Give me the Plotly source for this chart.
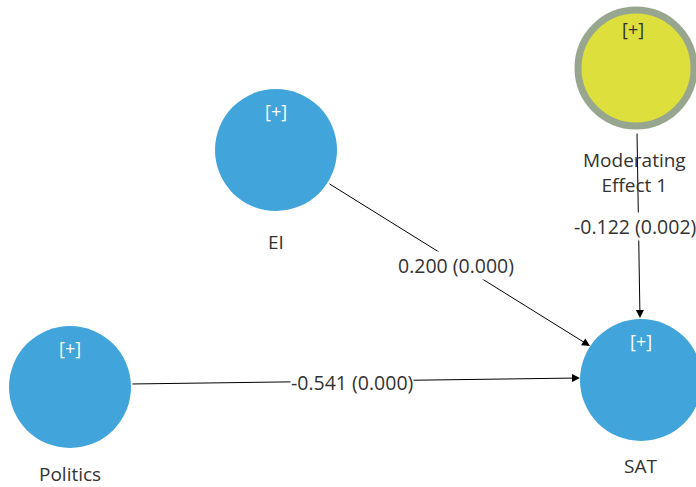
import plotly.graph_objects as go

# ---- data ----
nodes = ["EI", "Politics", "SAT", "Moderating<br>Effect 1"]
paths_from = ["EI", "Politics", "Moderating<br>Effect 1"]
paths_to = ["SAT", "SAT", "SAT"]
coefficients = [0.200, -0.541, -0.122]
p_values = [0.000, 0.000, 0.002]

# ---- layout (pixel space of the browser window) ----
W, H = 696, 487
pos = {
    "EI": (276, 150),
    "Politics": (70, 387),
    "SAT": (641, 380),
    "Moderating<br>Effect 1": (636, 68),
}
radius = {"EI": 61, "Politics": 61, "SAT": 61, "Moderating<br>Effect 1": 58}
fill = {"EI": "#41a5dc", "Politics": "#41a5dc", "SAT": "#41a5dc", "Moderating<br>Effect 1": "#dcdf3c"}
border = {"EI": None, "Politics": None, "SAT": None, "Moderating<br>Effect 1": "#99a68f"}
plus_color = {"EI": "#ffffff", "Politics": "#ffffff", "SAT": "#ffffff", "Moderating<br>Effect 1": "#333333"}
label_pos = {
    "EI": (276, 242),
    "Politics": (70, 474),
    "SAT": (640, 466),
    "Moderating<br>Effect 1": (634, 172),
}
# arrow start / end points and coefficient label positions
arrow_geom = [
    ((328, 183), (590, 346), (456, 265)),
    ((131, 384), (580, 378), (352, 382)),
    ((637, 132), (640, 318), (635, 226)),
]

FONT = "Open Sans"
fig = go.Figure()
fig.add_trace(go.Scatter(x=[0, W], y=[0, H], mode="markers", marker=dict(opacity=0),
                         hoverinfo="skip", showlegend=False))

shapes = []
annotations = []

for (s, e, lp), c, p in zip(arrow_geom, coefficients, p_values):
    annotations.append(dict(
        x=e[0], y=e[1], ax=s[0], ay=s[1], xref="x", yref="y", axref="x", ayref="y",
        showarrow=True, arrowhead=2, arrowsize=1.6, arrowwidth=1, arrowcolor="#000000",
        text="", standoff=0, startstandoff=0,
    ))

for n in nodes:
    cx, cy = pos[n]
    r = radius[n]
    line = dict(color=border[n], width=7) if border[n] else dict(width=0)
    shapes.append(dict(type="circle", xref="x", yref="y", x0=cx - r, x1=cx + r, y0=cy - r, y1=cy + r,
                       fillcolor=fill[n], line=line, layer="below"))
    annotations.append(dict(x=cx - 3 if border[n] else cx, y=cy - 39,
                            xref="x", yref="y", text="[+]", showarrow=False,
                            font=dict(family=FONT, size=18, color=plus_color[n])))
    lx, ly = label_pos[n]
    annotations.append(dict(x=lx, y=ly, xref="x", yref="y", text=n, showarrow=False,
                            font=dict(family=FONT, size=19, color="#333333")))

for (s, e, lp), c, p in zip(arrow_geom, coefficients, p_values):
    annotations.append(dict(x=lp[0], y=lp[1], xref="x", yref="y", text=f"{c:.3f} ({p:.3f})",
                            showarrow=False, bgcolor="#ffffff", borderpad=0,
                            font=dict(family=FONT, size=19.5, color="#333333")))

fig.update_layout(
    width=W, height=H, margin=dict(l=0, r=0, t=0, b=0),
    paper_bgcolor="#ffffff", plot_bgcolor="#ffffff",
    xaxis=dict(range=[0, W], visible=False, fixedrange=True),
    yaxis=dict(range=[H, 0], visible=False, fixedrange=True),
    shapes=shapes, annotations=annotations, showlegend=False,
    hovermode=False,
)
fig.write_html("out.html", config={"displayModeBar": False, "staticPlot": True},
               post_script="document.body.style.margin='0';document.body.style.overflow='hidden';")
